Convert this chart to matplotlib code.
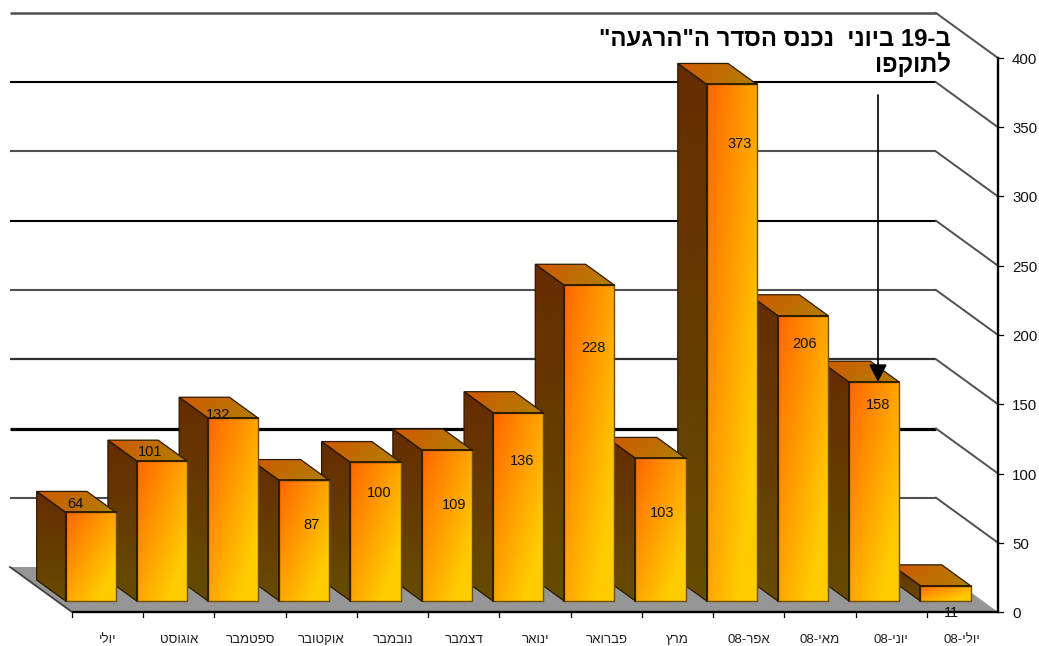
import re
import numpy as np
from matplotlib import pyplot as plt
from matplotlib.patches import Polygon

plt.rcParams['font.family'] = ['Liberation Sans', 'DejaVu Sans']

months = ['יולי', 'אוגוסט', 'ספטמבר', 'אוקטובר', 'נובמבר', 'דצמבר', 'ינואר',
          'פברואר', 'מרץ', 'אפר-08', 'מאי-08', 'יוני-08', 'יולי-08']
values = [64, 101, 132, 87, 100, 109, 136, 228, 103, 373, 206, 158, 11]
axis_ticks = [0, 50, 100, 150, 200, 250, 300, 350, 400]
note_lines = ['ב-19 ביוני  נכנס הסדר ה"הרגעה"', 'לתוקפו']

# label offsets from the top centre of each front face, in pixels
label_dx = [-15.5, -12, -15, 7, 4, 7.5, 4.5, 4, 2, 8, 1.5, 4, 6]
label_dy = [8, 9, 3, -44.5, -30.5, -55, -48, -63, -55, -60, -28, -23, -27]
grid_colors = ['#606060', '#505050', '#000000', '#303030', '#505050',
               '#000000', '#505050', '#000000', '#505050']
grid_widths = [1.5, 1.5, 2.3, 1.6, 1.5, 1.5, 1.5, 1.5, 1.8]

W, H = 1039, 646
px_x = (998 - 72) / len(months)
px_y = (612 - 58) / 400
depth_x, depth_y = 62 / px_x, 45 / px_y
FRONT, BACK = 0.245, 0.71
BAR_W = 50.3 / px_x
BAR_LEFT = 0.122


def visual(text):
    # matplotlib has no bidi, so hebrew goes in reversed with digit runs kept
    return re.sub(r'\d+', lambda m: m.group()[::-1], text[::-1])


def proj(x, v, d):
    return x - d * depth_x, v + d * depth_y


def shade(pts, c0, c1, mode, z):
    pts = np.array(pts)
    poly = Polygon(pts, closed=True, facecolor='none', edgecolor='none', zorder=z)
    ax.add_patch(poly)
    u, w = np.meshgrid(np.linspace(0, 1, 60), np.linspace(0, 1, 120))
    if mode == 'diag':
        t = np.clip(0.62 * (u + w), 0, 1)
    elif mode == 'vert':
        t = w
    else:
        t = (u + 0.3 * w) / 1.3
    c0, c1 = np.array(c0) / 255, np.array(c1) / 255
    img = c0 + (c1 - c0) * t[..., None]
    im = ax.imshow(img, extent=(pts[:, 0].min(), pts[:, 0].max(), pts[:, 1].min(), pts[:, 1].max()),
                   origin='upper', aspect='auto', interpolation='bilinear', zorder=z)
    im.set_clip_path(poly)


fig = plt.figure(figsize=(W / 100, H / 100), dpi=100)
ax = fig.add_axes([0, 0, 1, 1])
ax.axis('off')

n = len(months)

# floor
ax.add_patch(Polygon([proj(0, 0, 0), proj(n, 0, 0), proj(n, 0, 1), proj(0, 0, 1)],
                     closed=True, facecolor='#969696', edgecolor='none', zorder=1))
lx, ly = zip(proj(0, 0, 0), proj(0, 0, 1))
ax.plot(lx, ly, color='#404040', lw=1.3, zorder=1.5)

# back wall and side wall grid lines
for v, c, lw in zip(axis_ticks, grid_colors, grid_widths):
    a, b, e = proj(0, v, 1), proj(n, v, 1), proj(n, v, 0)
    if v > 0:
        ax.plot([a[0], b[0]], [a[1], b[1]], color=c, lw=lw, zorder=2, solid_capstyle='butt')
        ax.plot([b[0], e[0]], [b[1], e[1]], color='#505050', lw=1.4, zorder=2)

# bars, right to left so each front covers the next side face
z = 3
for i in range(n - 1, -1, -1):
    v = values[i]
    x0 = i + BAR_LEFT
    x1 = x0 + BAR_W
    fl, fr = proj(x0, 0, FRONT), proj(x1, 0, FRONT)
    tl, tr = proj(x0, v, FRONT), proj(x1, v, FRONT)
    bl_back, tl_back = proj(x0, 0, BACK), proj(x0, v, BACK)
    tr_back = proj(x1, v, BACK)

    shade([fl, tl, tl_back, bl_back], (102, 44, 0), (102, 76, 0), 'vert', z)
    shade([tl, tr, tr_back, tl_back], (208, 88, 0), (176, 128, 0), 'horiz', z + 0.1)
    shade([fl, fr, tr, tl], (255, 102, 0), (255, 204, 0), 'diag', z + 0.2)
    for pts in ([fl, tl, tl_back, bl_back], [tl, tr, tr_back, tl_back]):
        ax.add_patch(Polygon(pts, closed=True, facecolor='none', edgecolor='#2e1a00',
                             lw=0.9, zorder=z + 0.3))
    ax.add_patch(Polygon([fl, fr, tr, tl], closed=True, facecolor='none', edgecolor='#6b5000',
                         lw=1, zorder=z + 0.3))
    ax.plot([tl[0], tr[0]], [tl[1], tr[1]], color='#2e1a00', lw=1.3, zorder=z + 0.35)
    ax.plot([tl[0], fl[0]], [tl[1], fl[1]], color='#2e1a00', lw=1.3, zorder=z + 0.35)
    z += 1

for i, v in enumerate(values):
    cx = proj(i + BAR_LEFT + BAR_W / 2, v, FRONT)
    ax.text(cx[0] + label_dx[i] / px_x, cx[1] + label_dy[i] / px_y, str(v),
            ha='center', va='center', fontsize=10.5, color='#111111', zorder=50)

# axes in front
ax.plot([0, n], [0, 0], color='black', lw=1.7, zorder=40, solid_capstyle='butt')
ax.plot([n, n], [0, 400], color='black', lw=1.7, zorder=40)
for i in range(n):
    ax.plot([i, i], [0, -5 / px_y], color='black', lw=0.9, zorder=40)
    ax.text(i + 0.5, -28 / px_y, visual(months[i]), ha='center', va='center',
            fontsize=9.5, color='#222222', zorder=40)
for v in axis_ticks:
    ax.plot([n, n + 5 / px_x], [v, v], color='black', lw=0.9, zorder=40)
    ax.text(n + 14 / px_x, v - 2 / px_y, str(v), ha='left', va='center', fontsize=10.8,
            color='#111111', zorder=40)

# note and arrow
for line, py in zip(note_lines, [39, 64]):
    fig.text(951 / W, 1 - py / H, visual(line), ha='right', va='center', fontsize=17.2,
             fontweight='bold', color='black', zorder=60)
ax.annotate('', xy=(878, H - 382), xytext=(878, H - 95), xycoords='figure pixels',
            textcoords='figure pixels', zorder=60,
            arrowprops=dict(arrowstyle='-|>,head_width=0.24,head_length=0.47', mutation_scale=23,
                            color='black', lw=1.2, shrinkA=0, shrinkB=0))

ax.set_xlim(-72 / px_x, (W - 72) / px_x)
ax.set_ylim((612 - H) / px_y, 612 / px_y)

plt.savefig('out.png', dpi=100)
plt.close()
